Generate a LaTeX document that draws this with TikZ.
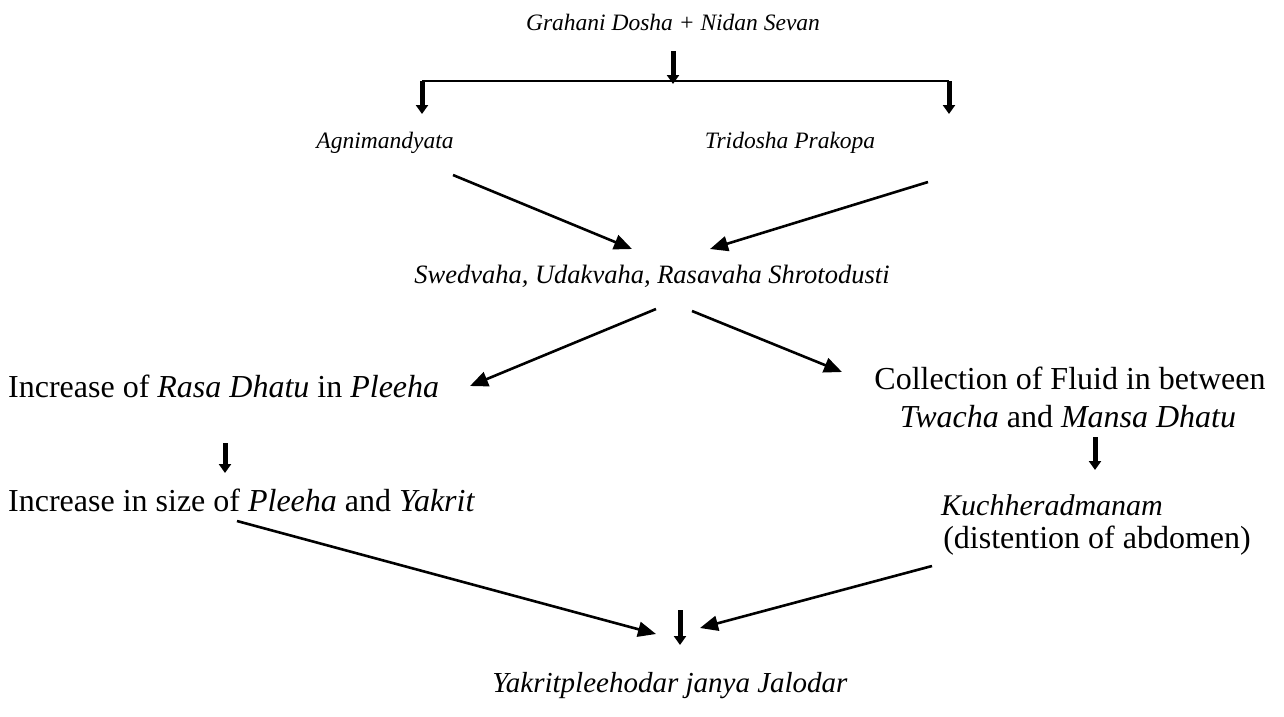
\documentclass[tikz,border=0pt]{standalone}
\usepackage{fontspec}
\setmainfont{Liberation Serif}
\usetikzlibrary{arrows.meta}
\begin{document}
\begin{tikzpicture}[x=1pt,y=-1pt,
  big/.style={font=\fontsize{32}{38}\selectfont, inner sep=0pt},
  small/.style={font=\fontsize{23.5}{28}\selectfont\itshape, inner sep=0pt},
  conn/.style={line width=2.6pt, -{Triangle[length=18pt,width=15pt]}},
  drop/.style={line width=5pt, -{Triangle[length=9pt,width=12pt]}},
  bar/.style={line width=2.6pt}]
\useasboundingbox (0,0) rectangle (1284,716);
% texts
\node[small] (gd) at (673,22) {Grahani Dosha + Nidan Sevan};
\node[small] (ag) at (385,143) {Agnimandyata};
\node[small] (tp) at (790,143) {Tridosha Prakopa};
\node[small, font=\fontsize{26.5}{30}\selectfont\itshape] (sw) at (652,276) {Swedvaha, Udakvaha, Rasavaha Shrotodusti};
\node[big, anchor=west] (inc) at (8,386) {Increase of \textit{Rasa Dhatu} in \textit{Pleeha}};
\node[big] (col1) at (1070,378) {Collection of Fluid in between};
\node[big] (col2) at (1068,417) {\textit{Twacha} and \textit{Mansa Dhatu}};
\node[big, anchor=west] (size) at (8,500) {Increase in size of \textit{Pleeha} and \textit{Yakrit}};
\node[big, font=\fontsize{30}{36}\selectfont] (ku) at (1052,505) {\textit{Kuchheradmanam}};
\node[big] (dis) at (1097,541) {(distention of abdomen)};
\node[big, font=\fontsize{29}{34}\selectfont] (ya) at (670,686) {\textit{Yakritpleehodar janya Jalodar}};
% connector ends
\coordinate (t0) at (673,51);  \coordinate (t1) at (673,84);
\coordinate (bl) at (422,81);  \coordinate (br) at (949,81);
\coordinate (dl) at (422,114); \coordinate (dr) at (949,114);
\coordinate (a1s) at (453,175); \coordinate (a1e) at (632,249);
\coordinate (a2s) at (928,182); \coordinate (a2e) at (710,249);
\coordinate (b1s) at (656,309); \coordinate (b1e) at (470,386);
\coordinate (b2s) at (692,311); \coordinate (b2e) at (842,372);
\coordinate (c1s) at (225,443); \coordinate (c1e) at (225,473);
\coordinate (c2s) at (1095,437); \coordinate (c2e) at (1095,470);
\coordinate (e1s) at (237,521); \coordinate (e1e) at (656,634);
\coordinate (e2s) at (932,566); \coordinate (e2e) at (700,628);
\coordinate (f0) at (680,610); \coordinate (f1) at (680,645);
% connectors
\draw[bar] (bl) -- (br);
\draw[drop] (t0) -- (t1);
\draw[drop] (bl) -- (dl);
\draw[drop] (br) -- (dr);
\draw[conn] (a1s) -- (a1e);
\draw[conn] (a2s) -- (a2e);
\draw[conn] (b1s) -- (b1e);
\draw[conn] (b2s) -- (b2e);
\draw[drop] (c1s) -- (c1e);
\draw[drop] (c2s) -- (c2e);
\draw[conn] (e1s) -- (e1e);
\draw[conn] (e2s) -- (e2e);
\draw[drop] (f0) -- (f1);
\end{tikzpicture}
\end{document}
